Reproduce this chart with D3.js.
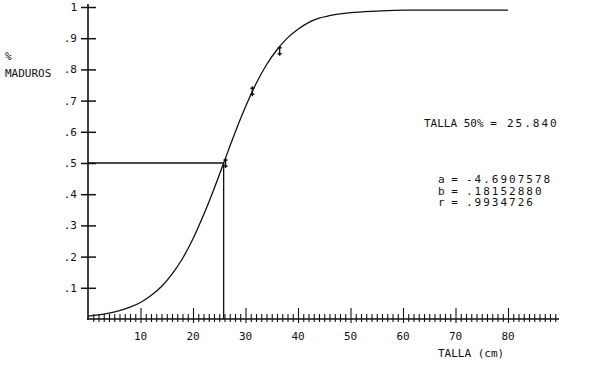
<!DOCTYPE html>
<html>
<head>
<meta charset="utf-8">
<script src="https://cdn.jsdelivr.net/npm/d3@7"></script>
<style>
  body { margin: 0; background: #fff; }
  text { font-family: "DejaVu Sans Mono", monospace; font-size: 11px; fill: #111; }
</style>
</head>
<body>
<div id="chart"></div>
<script>
// curve (talla in cm, proportion mature)
const tallas  = [0, 2, 4, 6, 8, 10, 12, 14, 16, 18, 20, 22, 24, 26, 28, 30, 32, 34, 36, 38, 40, 42, 44, 46, 48, 50, 55, 60, 65, 70, 75, 80];
const maduros = [0.009, 0.013, 0.019, 0.027, 0.038, 0.053, 0.075, 0.104, 0.144, 0.194, 0.257, 0.333, 0.417, 0.507, 0.597, 0.680, 0.754, 0.815, 0.863, 0.901, 0.929, 0.950, 0.964, 0.972, 0.978, 0.982, 0.987, 0.990, 0.990, 0.990, 0.990, 0.990];

// marked points
const puntosTalla = [26.2, 31.3, 36.5];
const puntosProp  = [0.50, 0.73, 0.86];

const talla50 = 25.84;
const yTicks = [0.1, 0.2, 0.3, 0.4, 0.5, 0.6, 0.7, 0.8, 0.9, 1];
const xMajor = [10, 20, 30, 40, 50, 60, 70, 80];
const coefLabels = ["a =", "b =", "r ="];
const coefValues = ["-4.6907578", ".18152880", ".9934726"];

window.onload = () => {
    let svg = d3.select('#chart').append('svg').attr('width', 600).attr('height', 366);

    let x = d3.scaleLinear().domain([0, 90]).range([88, 560.5]);
    let y = d3.scaleLinear().domain([0, 1]).range([319, 7]);

    // y axis
    let yAxis = svg.append('g').attr('transform', 'translate(88,0)')
        .call(d3.axisLeft(y).tickValues(yTicks).tickSize(7)
            .tickFormat(d => d === 1 ? '1' : d3.format('.1f')(d).replace(/^0/, '')));
    yAxis.select('.domain').remove();
    yAxis.selectAll('.tick line').attr('x1', -7).attr('x2', 8).attr('stroke', '#111').attr('stroke-width', 1.5);
    yAxis.selectAll('.tick text').attr('x', -11).attr('font-size', null).attr('font-family', null);
    svg.append('line').attr('x1', 88).attr('x2', 88).attr('y1', 4).attr('y2', 320)
        .attr('stroke', '#111').attr('stroke-width', 1.6);

    // x axis: minor crosses every cm, longer marks every 10
    let xAxis = svg.append('g').attr('transform', 'translate(0,319)')
        .call(d3.axisBottom(x).tickValues(d3.range(1, 90)).tickSize(3).tickFormat(''));
    xAxis.select('.domain').remove();
    xAxis.selectAll('.tick line')
        .attr('y1', d => xMajor.includes(d) ? -11 : -5)
        .attr('y2', d => xMajor.includes(d) ? 4 : 3)
        .attr('stroke', '#111').attr('stroke-width', 1.1);
    svg.append('line').attr('x1', 87).attr('x2', 559).attr('y1', 319).attr('y2', 319)
        .attr('stroke', '#111').attr('stroke-width', 1.6);

    svg.append('g').selectAll('text').data(xMajor).enter().append('text')
        .attr('x', d => x(d))
        .attr('y', 340)
        .attr('text-anchor', 'middle')
        .text(d => d);

    // 50% guide lines
    svg.append('line').attr('x1', x(0)).attr('x2', x(talla50)).attr('y1', y(0.5)).attr('y2', y(0.5))
        .attr('stroke', '#111').attr('stroke-width', 1.3);
    svg.append('line').attr('x1', x(talla50)).attr('x2', x(talla50)).attr('y1', y(0.5)).attr('y2', y(0))
        .attr('stroke', '#111').attr('stroke-width', 1.3);

    // curve
    let line = d3.line().x((d, i) => x(tallas[i])).y(d => y(d)).curve(d3.curveMonotoneX);
    svg.append('path').datum(maduros)
        .attr('d', line)
        .attr('fill', 'none')
        .attr('stroke', '#111')
        .attr('stroke-width', 1.3);

    // point markers
    svg.append('g').selectAll('path').data(puntosTalla).enter().append('path')
        .attr('d', (d, i) => {
            let px = x(d), py = y(puntosProp[i]);
            return 'M' + px + ',' + (py - 5) + 'V' + (py + 5) +
                'M' + (px - 2) + ',' + (py - 3) + 'H' + (px + 2) +
                'M' + (px - 2) + ',' + (py + 3) + 'H' + (px + 2);
        })
        .attr('fill', 'none')
        .attr('stroke', '#111')
        .attr('stroke-width', 1.4);

    // titles
    svg.append('text').attr('x', 5).attr('y', 60).attr('font-size', '9px').text('%');
    svg.append('text').attr('x', 5).attr('y', 77).text('MADUROS');
    svg.append('text').attr('x', 438).attr('y', 357).text('TALLA (cm)');

    svg.append('text').attr('x', 424).attr('y', 127).text('TALLA 50% =');
    svg.append('text').attr('x', 507).attr('y', 127).attr('letter-spacing', 2)
        .text(d3.format('.3f')(talla50));

    // fit coefficients, slightly smaller so the rows do not collide
    svg.append('g').selectAll('text').data(coefLabels).enter().append('text')
        .attr('x', 438)
        .attr('y', (d, i) => 183 + i * 11.5)
        .attr('font-size', '10px')
        .text(d => d);
    svg.append('g').selectAll('text').data(coefValues).enter().append('text')
        .attr('x', 466)
        .attr('y', (d, i) => 183 + i * 11.5)
        .attr('font-size', '10px')
        .attr('letter-spacing', 2)
        .text(d => d);
};
</script>
</body>
</html>
